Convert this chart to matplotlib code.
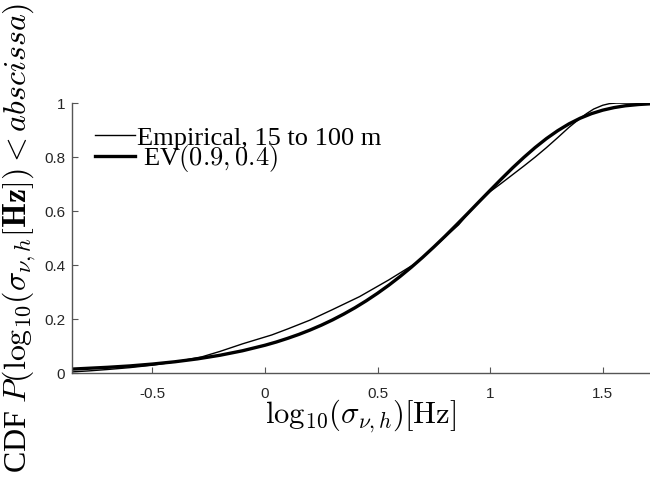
import matplotlib
matplotlib.use('Agg')
import matplotlib.pyplot as plt

plt.rcParams['font.family'] = 'sans-serif'
plt.rcParams['font.sans-serif'] = ['Liberation Sans']
plt.rcParams['mathtext.fontset'] = 'cm'

# empirical CDF
emp_x = [-0.86, -0.78, -0.7, -0.6, -0.5, -0.4, -0.28, -0.2, -0.1, 0.03,
         0.1, 0.2, 0.3, 0.42, 0.55, 0.676, 0.75, 0.8, 0.86, 0.91, 0.96,
         1.0, 1.05, 1.1, 1.15, 1.2, 1.25, 1.3, 1.35, 1.4, 1.43, 1.46,
         1.5, 1.53, 1.56, 1.6, 1.72]
emp_y = [0.004, 0.008, 0.013, 0.02, 0.029, 0.041, 0.06, 0.08, 0.108, 0.141,
         0.163, 0.196, 0.235, 0.283, 0.345, 0.41, 0.465, 0.504, 0.549, 0.598,
         0.64, 0.672, 0.703, 0.735, 0.767, 0.8, 0.835, 0.872, 0.91, 0.944,
         0.962, 0.978, 0.992, 0.998, 1.0, 1.0, 1.0]

# extreme value fit
ev_x = [-0.86, -0.7, -0.6, -0.5, -0.4, -0.3, -0.2, -0.1, 0.0, 0.05, 0.1,
        0.15, 0.2, 0.25, 0.3, 0.35, 0.4, 0.45, 0.5, 0.55, 0.6, 0.65, 0.7,
        0.75, 0.8, 0.85, 0.9, 0.95, 1.0, 1.05, 1.1, 1.15, 1.2, 1.25, 1.3,
        1.35, 1.4, 1.45, 1.5, 1.55, 1.6, 1.66, 1.72]
ev_y = [0.0144, 0.0211, 0.0263, 0.0332, 0.0417, 0.0524, 0.0658, 0.0824,
        0.1029, 0.1148, 0.1283, 0.1429, 0.1592, 0.1771, 0.1968, 0.2185,
        0.2420, 0.2677, 0.2955, 0.3254, 0.3576, 0.3919, 0.4284, 0.4670,
        0.5070, 0.5486, 0.5909, 0.6340, 0.6768, 0.7190, 0.7602, 0.7990,
        0.8354, 0.8685, 0.8977, 0.9230, 0.9440, 0.9609, 0.9738, 0.9833,
        0.9900, 0.9948, 0.9978]

xticks = [-0.5, 0, 0.5, 1, 1.5]
yticks = [0, 0.2, 0.4, 0.6, 0.8, 1]

fig = plt.figure(figsize=(6.5, 4.84), dpi=100)
ax = fig.add_axes([0.1108, 0.2293, 0.8892, 0.5577])

ax.plot(emp_x, emp_y, color='k', lw=1.0, label='Empirical, 15 to 100 m')
ax.plot(ev_x, ev_y, color='k', lw=2.4, label=' EV$(0.9, 0.4)$')

ax.set_xlim(-0.857, 1.71)
ax.set_ylim(0, 1)
ax.set_xticks(xticks)
ax.set_xticklabels(['-0.5', '0', '0.5', '1', '1.5'])
ax.set_yticks(yticks)
ax.set_yticklabels(['0', '0.2', '0.4', '0.6', '0.8', '1'])

for s in ['top', 'right']:
    ax.spines[s].set_visible(False)
for s in ['left', 'bottom']:
    ax.spines[s].set_color('#555555')
    ax.spines[s].set_linewidth(1.0)
ax.tick_params(direction='in', length=4, color='#555555', labelsize=11,
               labelcolor='#262626')
ax.tick_params(axis='x', pad=10)
ax.tick_params(axis='y', pad=5)

ax.set_xlabel(r'$\mathrm{log}_{10}(\sigma_{\nu,h})[\mathrm{Hz}]$', fontsize=22,
              family='Liberation Serif', labelpad=-2)
ax.set_ylabel(r'CDF $P(\mathrm{log}_{10}(\sigma_{\nu,h}[\mathbf{Hz}]) < abscissa)$',
              fontsize=23, family='Liberation Serif', labelpad=4)

ax.legend(loc='upper left', bbox_to_anchor=(0.04, 0.915), frameon=False,
          prop={'family': 'Liberation Serif', 'size': 19},
          handlelength=1.5, handletextpad=0.1, labelspacing=-0.25,
          borderpad=0, borderaxespad=0)

plt.savefig('out.png', dpi=100)
